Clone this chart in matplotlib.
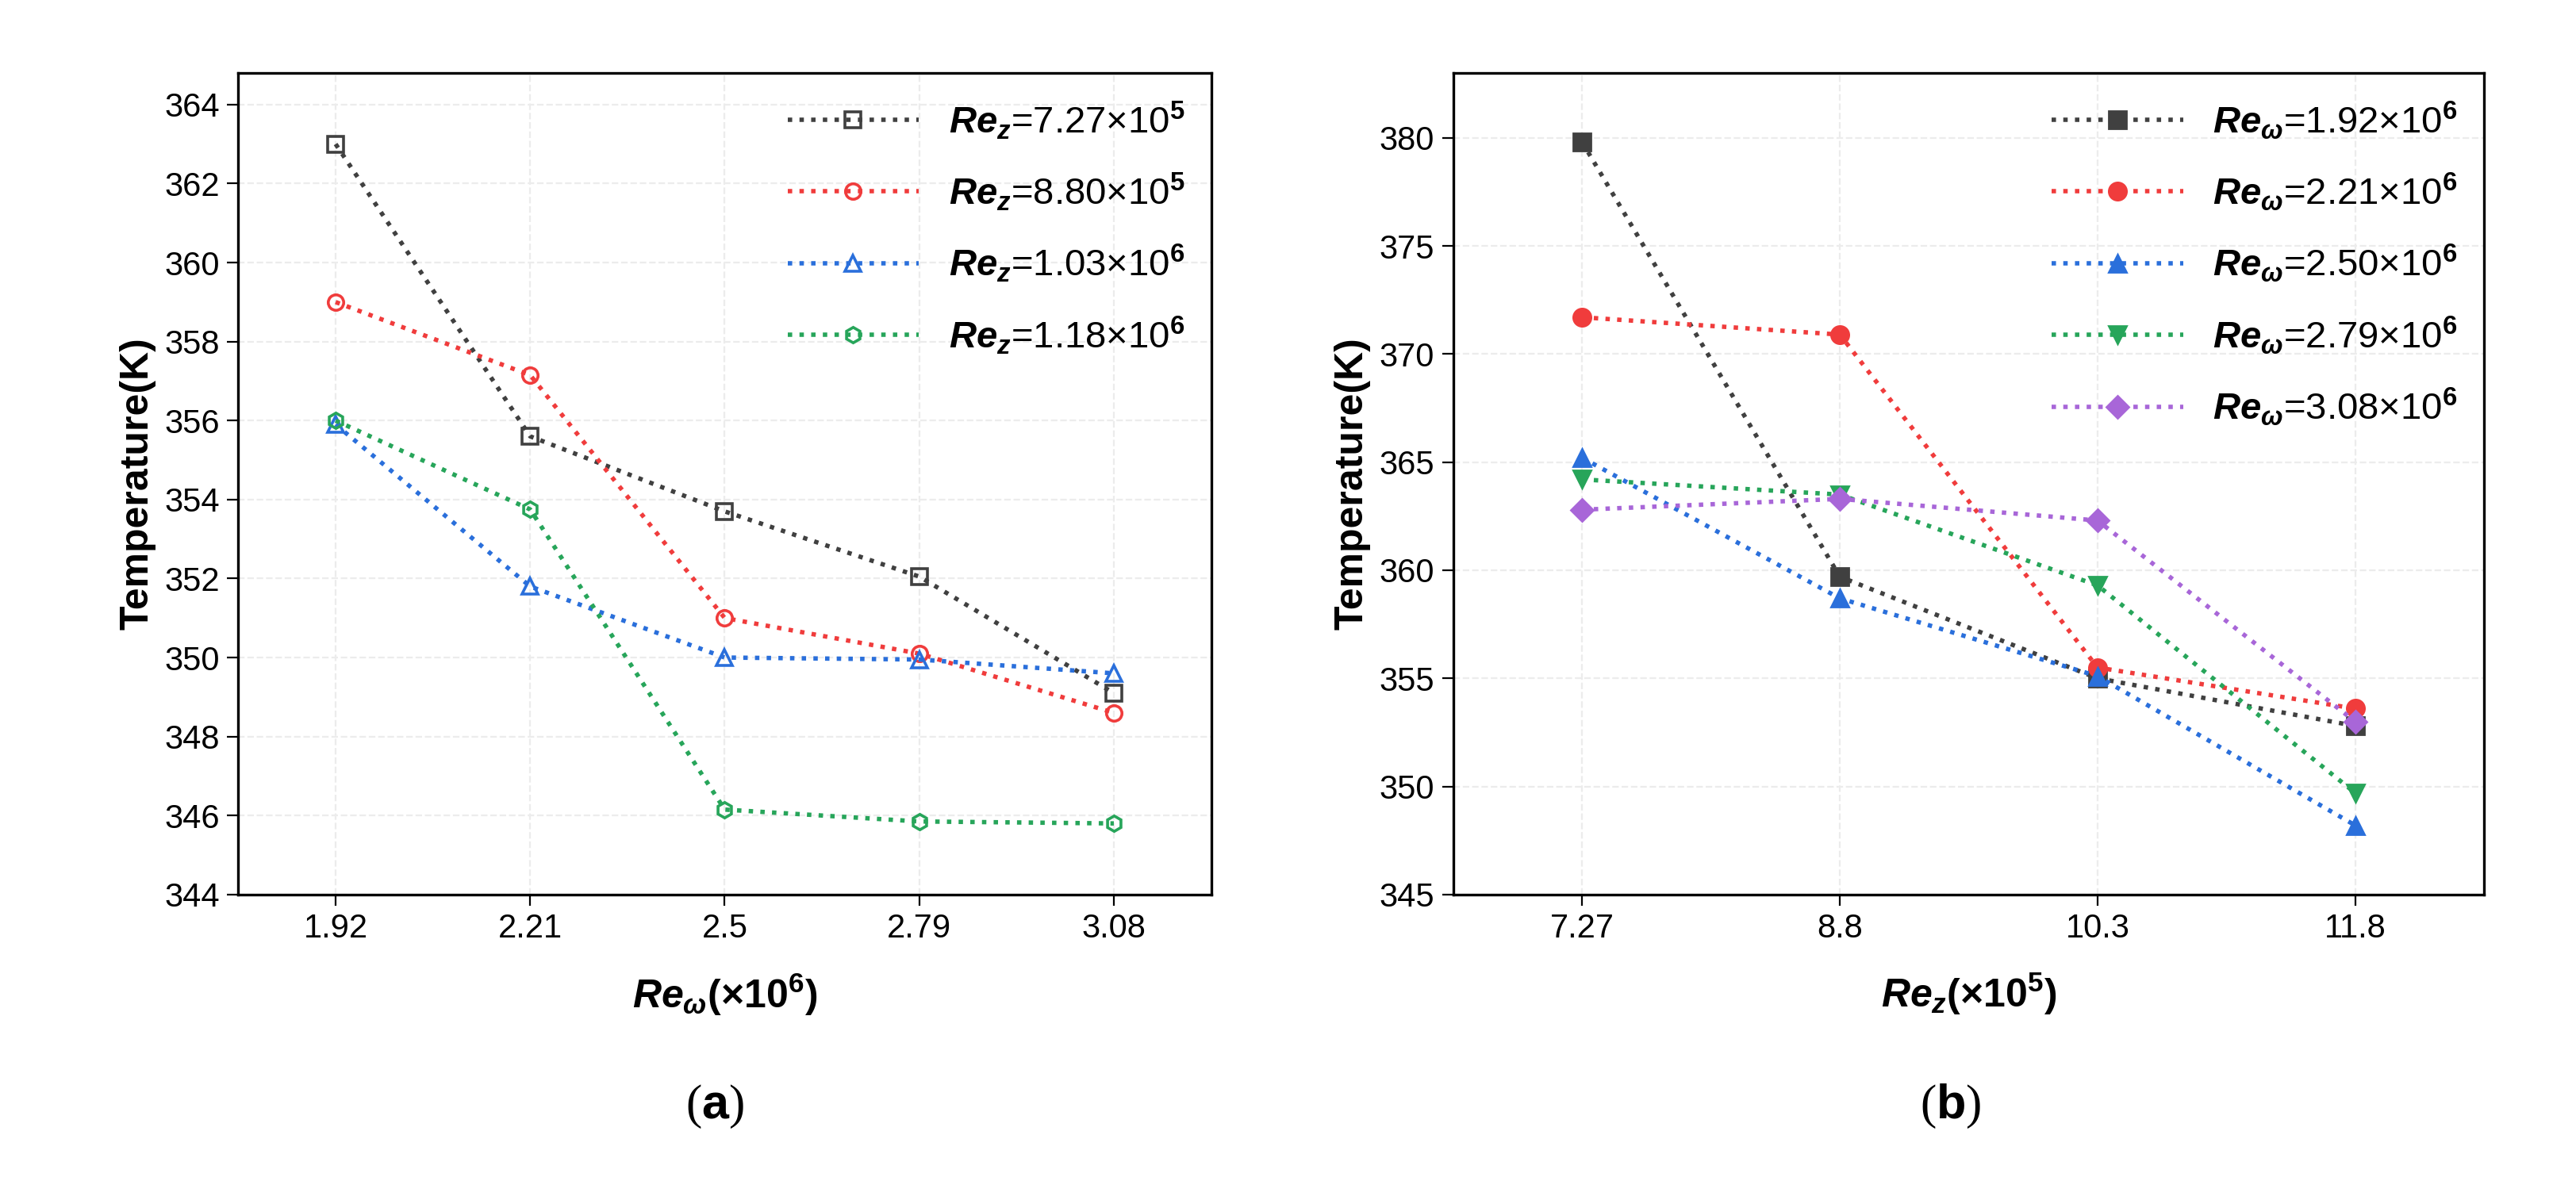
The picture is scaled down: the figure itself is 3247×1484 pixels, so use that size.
import matplotlib
matplotlib.use("Agg")
import matplotlib.pyplot as plt

plt.rcParams['font.family'] = 'Liberation Sans'
plt.rcParams['mathtext.fontset'] = 'custom'
plt.rcParams['mathtext.it'] = 'Liberation Sans:italic:bold'
plt.rcParams['mathtext.rm'] = 'Liberation Sans:bold'
plt.rcParams['mathtext.bf'] = 'Liberation Sans:bold'

xa_labels = ["1.92", "2.21", "2.5", "2.79", "3.08"]
a_names = [r"$Re_z$=7.27×10$^5$", r"$Re_z$=8.80×10$^5$", r"$Re_z$=1.03×10$^6$", r"$Re_z$=1.18×10$^6$"]
a_vals = [
    [363.0, 355.6, 353.7, 352.05, 349.1],
    [359.0, 357.15, 351.0, 350.1, 348.6],
    [355.9, 351.8, 350.0, 349.95, 349.6],
    [356.0, 353.75, 346.15, 345.85, 345.8],
]
a_markers = ["s", "o", "^", "h"]

xb_labels = ["7.27", "8.8", "10.3", "11.8"]
b_names = [r"$Re_\omega$=1.92×10$^6$", r"$Re_\omega$=2.21×10$^6$", r"$Re_\omega$=2.50×10$^6$",
           r"$Re_\omega$=2.79×10$^6$", r"$Re_\omega$=3.08×10$^6$"]
b_vals = [
    [379.8, 359.7, 355.0, 352.8],
    [371.7, 370.9, 355.5, 353.6],
    [365.2, 358.7, 355.1, 348.2],
    [364.2, 363.5, 359.3, 349.7],
    [362.8, 363.3, 362.3, 353.0],
]
b_markers = ["s", "o", "^", "v", "D"]

colors = ["#404040", "#f03c3c", "#2a6fdb", "#27a55a", "#a866d8"]

fig = plt.figure(figsize=(16.24, 7.42), dpi=200)
ax1 = fig.add_axes([0.0925, 0.24, 0.3775, 0.698])
ax2 = fig.add_axes([0.564, 0.24, 0.40, 0.698])

for i, (n, v) in enumerate(zip(a_names, a_vals)):
    ax1.plot(range(len(v)), v, linestyle=":", lw=2, color=colors[i], marker=a_markers[i],
             ms=7, mfc="none", mew=1.3, label=n)
for i, (n, v) in enumerate(zip(b_names, b_vals)):
    ax2.plot(range(len(v)), v, linestyle=":", lw=2, color=colors[i], marker=b_markers[i],
             ms=8 if b_markers[i] != "D" else 7, label=n)

ax1.set_xticks(range(len(xa_labels)), xa_labels)
ax1.set_xlim(-0.5, 4.5)
ax1.set_ylim(344, 364.8)
ax1.set_yticks(range(344, 365, 2))
ax1.set_xlabel(r"$Re_\omega$(×10$^6$)", fontsize=18, fontweight="bold", labelpad=12)
ax1.set_ylabel("Temperature(K)", fontsize=18, fontweight="bold")

ax2.set_xticks(range(len(xb_labels)), xb_labels)
ax2.set_xlim(-0.5, 3.5)
ax2.set_ylim(345, 383)
ax2.set_yticks(range(345, 381, 5))
ax2.set_xlabel(r"$Re_z$(×10$^5$)", fontsize=18, fontweight="bold", labelpad=12)
ax2.set_ylabel("Temperature(K)", fontsize=18, fontweight="bold")

for ax in (ax1, ax2):
    ax.grid(True, linestyle="--", color="#ececec", lw=0.8)
    ax.set_axisbelow(True)
    ax.tick_params(labelsize=15, direction="out", length=5)
    for s in ax.spines.values():
        s.set_linewidth(1.2)
    ax.legend(frameon=False, fontsize=17, loc="upper right", handlelength=3.5,
              labelspacing=0.8, borderaxespad=0.3)

fig.text(0.2775, 0.05, r"($\mathbf{a}$)", fontsize=22, ha="center", family="Liberation Serif")
fig.text(0.757, 0.05, r"($\mathbf{b}$)", fontsize=22, ha="center", family="Liberation Serif")
fig.savefig("out.png", dpi=200)
